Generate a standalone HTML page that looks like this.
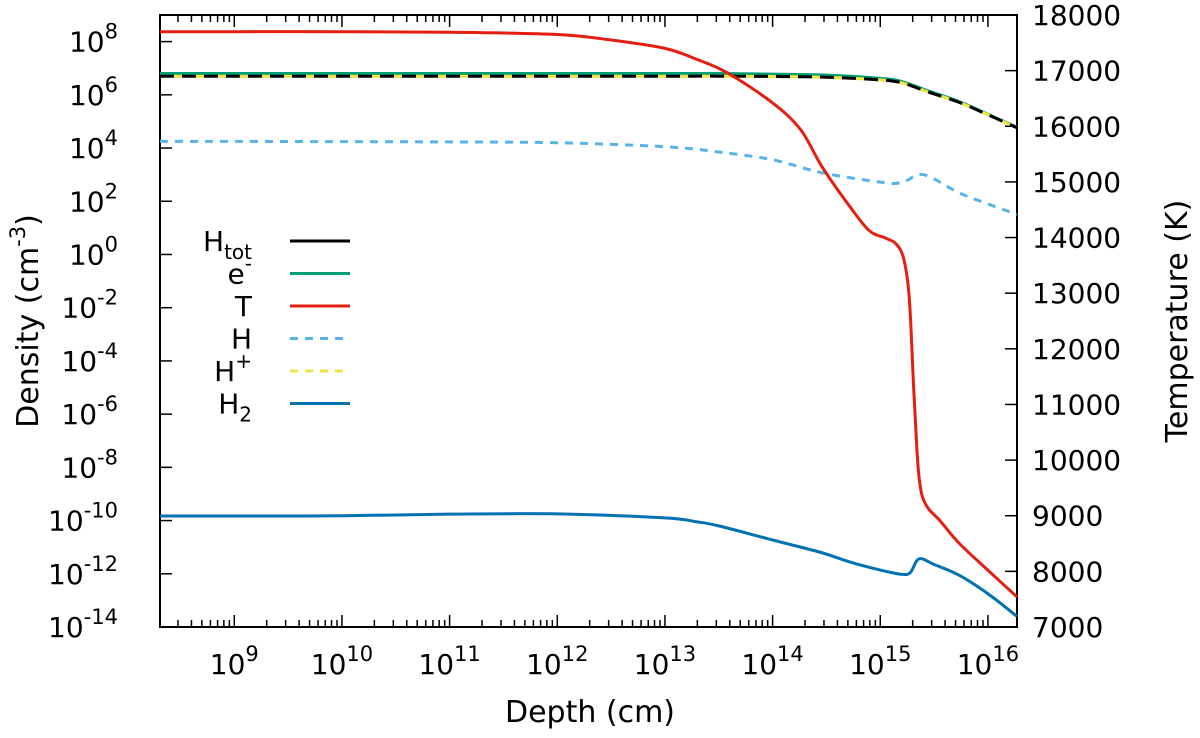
<!DOCTYPE html>
<html><head><meta charset="utf-8"><style>
body{margin:0;background:#fff;}
svg text{font-family:"DejaVu Sans","Liberation Sans",sans-serif;fill:#000;}
</style></head><body>
<svg id="chart" width="1200" height="733">
<g id="axes"></g><g id="series"></g><g id="legend"></g>
</svg>
<script>
const xLogTicks=[9,10,11,12,13,14,15,16];
const yLogTicks=[8,6,4,2,0,-2,-4,-6,-8,-10,-12,-14];
const tTicks=[7000,8000,9000,10000,11000,12000,13000,14000,15000,16000,17000,18000];
const depthDens=[8.31,9,10,11,12,13,13.5,14,14.5,15,15.2,15.45,15.73,16,16.27];
const hTot=[6.7,6.7,6.7,6.7,6.7,6.7,6.7,6.69,6.66,6.56,6.45,6.1,5.72,5.25,4.76];
const eMinus=[6.8,6.8,6.8,6.8,6.8,6.8,6.8,6.78,6.74,6.62,6.5,6.14,5.75,5.27,4.78];
const hPlus=[6.7,6.7,6.7,6.7,6.7,6.7,6.7,6.69,6.66,6.56,6.45,6.1,5.72,5.25,4.76];
const depthH=[8.31,9,10,11,12,13,13.5,14,14.46,15,15.2,15.4,15.73,16,16.27];
const hNeutral=[4.25,4.25,4.24,4.23,4.2,4.05,3.85,3.56,3.07,2.72,2.7,3.0,2.32,1.9,1.5];
const depthH2=[8.31,9,10,11,12,13,13.3,13.5,14,14.45,14.72,15,15.2,15.28,15.36,15.5,15.73,16,16.27];
const h2=[-9.83,-9.83,-9.82,-9.76,-9.75,-9.9,-10.05,-10.2,-10.73,-11.2,-11.56,-11.86,-12.02,-11.95,-11.44,-11.65,-12.05,-12.75,-13.6];
const depthT=[8.31,9,10,11,12,12.5,13,13.3,13.58,14,14.26,14.46,14.72,14.9,15.05,15.15,15.22,15.27,15.31,15.34,15.36,15.39,15.45,15.55,15.73,16,16.27];
const temp=[17700,17700,17700,17690,17650,17550,17400,17200,16960,16420,15940,15270,14550,14120,13990,13880,13600,12900,11300,10200,9700,9350,9120,8920,8510,8020,7540];

const L=160,R=1017,T=15,B=627;
const x=v=>L+(v-8.31)/(16.27-8.31)*(R-L);
const y=v=>B-(v+14)/23*(B-T);
const yT=v=>B-(v-7000)/11000*(B-T);
const NS="http://www.w3.org/2000/svg";
function mk(tag,attrs,parent,text){const e=document.createElementNS(NS,tag);for(const k in attrs)e.setAttribute(k,attrs[k]);if(text!==undefined)e.textContent=text;parent.appendChild(e);return e;}
const ax=document.getElementById('axes');
const frame=mk('rect',{x:L,y:T,width:R-L,height:B-T,fill:'none',stroke:'#000','stroke-width':2},ax);


for(let d=8;d<=16;d++){for(let m=1;m<10;m++){const v=d+Math.log10(m);if(v<8.31||v>16.27)continue;const len=m==1?12:7;const px=x(v);
mk('line',{x1:px,x2:px,y1:B,y2:B-len,stroke:'#000','stroke-width':1.5},ax);mk('line',{x1:px,x2:px,y1:T,y2:T+len,stroke:'#000','stroke-width':1.5},ax);}}
xLogTicks.forEach(d=>{const t=mk('text',{x:x(d),y:674,'text-anchor':'middle','font-size':28},ax);


t.innerHTML='10<tspan dy="-13" font-size="21">'+d+'</tspan>';});
yLogTicks.forEach(d=>{const py=y(d);mk('line',{x1:L,x2:L+12,y1:py,y2:py,stroke:'#000','stroke-width':1.5},ax);
const t=mk('text',{x:118,y:py+10,'text-anchor':'end','font-size':28},ax);


t.innerHTML='10<tspan dy="-13" font-size="21">'+d+'</tspan>';});
tTicks.forEach(v=>{const py=yT(v);mk('line',{x1:R,x2:R-12,y1:py,y2:py,stroke:'#000','stroke-width':1.5},ax);
const t=mk('text',{x:1032,y:py+10,'font-size':28},ax,String(v));

});
const xt=mk('text',{x:590,y:722,'text-anchor':'middle','font-size':30},ax,'Depth (cm)');


const yt=mk('text',{transform:'translate(38,321) rotate(-90)','text-anchor':'middle','font-size':30},ax);


yt.innerHTML='Density (cm<tspan dy="-13" font-size="21">-3</tspan><tspan dy="13">)</tspan>';
const y2t=mk('text',{transform:'translate(1187,321) rotate(-90)','text-anchor':'middle','font-size':30},ax,'Temperature (K)');



function path(pts){let d='M'+pts[0][0]+','+pts[0][1];for(let i=0;i<pts.length-1;i++){const p0=pts[i-1]||pts[i],p1=pts[i],p2=pts[i+1],p3=pts[i+2]||p2;
const c1=[p1[0]+(p2[0]-p0[0])/6,p1[1]+(p2[1]-p0[1])/6],c2=[p2[0]-(p3[0]-p1[0])/6,p2[1]-(p3[1]-p1[1])/6];d+=`C${c1},${c2},${p2}`;}return d;}
const sg=document.getElementById('series');
const series=[
 {name:'h-neutral-line',xs:depthH,data:hNeutral,f:y,c:'#56b4e9',dash:'8,7'},
 {name:'electron-line',xs:depthDens,data:eMinus,f:y,c:'#009e73'},
 {name:'h-tot-line',xs:depthDens,data:hTot,f:y,c:'#000',dash:'14,8'},
 {name:'h-plus-line',xs:depthDens,data:hPlus,f:y,c:'#f0e442',dash:'8,14',off:-14},
 {name:'h2-line',xs:depthH2,data:h2,f:y,c:'#0072b2'},
 {name:'temperature-line',xs:depthT,data:temp,f:yT,c:'#e51e10'}];
series.forEach(s=>{const p=mk('path',{d:path(s.xs.map((d,i)=>[x(d),s.f(s.data[i])])),fill:'none',stroke:s.c,'stroke-width':3},sg);
if(s.dash)p.setAttribute('stroke-dasharray',s.dash);if(s.off)p.setAttribute('stroke-dashoffset',s.off);

});
const lg=document.getElementById('legend');
const ents=[['H<tspan dy="8" font-size="20">tot</tspan>','#000',null,'legend-htot'],['e<tspan dy="-13" font-size="20">-</tspan>','#009e73',null,'legend-electron'],['T','#e51e10',null,'legend-temperature'],['H','#56b4e9','8,7','legend-h'],['H<tspan dy="-13" font-size="20">+</tspan>','#f0e442','8,7','legend-hplus'],['H<tspan dy="8" font-size="20">2</tspan>','#0072b2',null,'legend-h2']];
ents.forEach((e,i)=>{const py=241+i*32.5;const g=mk('g',{},lg);


const t=mk('text',{x:252,y:py+10,'text-anchor':'end','font-size':28},g);t.innerHTML=e[0];
const l=mk('line',{x1:290,x2:350,y1:py,y2:py,stroke:e[1],'stroke-width':3},g);if(e[2])l.setAttribute('stroke-dasharray',e[2]);});
</script>
</body></html>
